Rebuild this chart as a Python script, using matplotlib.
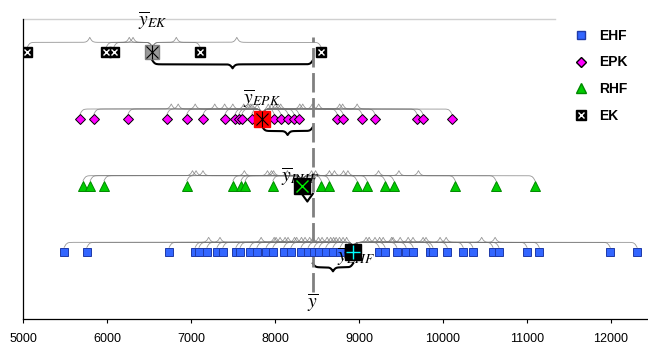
import numpy as np
import matplotlib
matplotlib.use("Agg")
import matplotlib.pyplot as plt
from matplotlib.lines import Line2D

plt.rcParams['font.family'] = ['Liberation Sans', 'DejaVu Sans']
plt.rcParams['mathtext.fontset'] = 'stix'

# values
ek = [5050, 5990, 6080, 7110, 8550]
epk = [5680, 5845, 6250, 6715, 6950, 7145, 7405, 7525, 7570, 7605, 7725,
       7990, 8070, 8155, 8225, 8285, 8740, 8810, 9035, 9190, 9690, 9760, 10105]
rhf = [5715, 5800, 5965, 6950, 7500, 7595, 7645, 7975, 8550, 8645, 8975,
       9095, 9310, 9415, 10145, 10630, 11095]
ehf = [5490, 5760, 6740, 7050, 7095, 7190, 7310, 7380, 7535, 7585, 7700,
       7785, 7895, 7975, 8105, 8190, 8310, 8395, 8465, 8525, 8605, 8690,
       8775, 9240, 9310, 9450, 9560, 9645, 9845, 9880, 10050, 10240, 10355,
       10595, 10665, 11000, 11145, 11990, 12310]
group_names = ['EK', 'EPK', 'RHF', 'EHF']
group_means = [6540, 7850, 8320, 8930]
grand_mean = 8450
xticks = [5000, 6000, 7000, 8000, 9000, 10000, 11000, 12000]

fig = plt.figure(figsize=(6.48, 3.45), dpi=100)
ax = fig.add_axes([23/648, 26/345, 625/648, 300/345])
xmin, xmax = 5000, 12440
ax.set_xlim(xmin, xmax)
ax.set_ylim(0, 4.5)
px_x = 625 / (xmax - xmin)
px_y = 300 / 4.5


def brace(x1, x2, y, h, up=True, **kw):
    a, b = sorted((x1, x2))
    w = (b - a) * px_x
    t = np.linspace(0, w / 2, 80)
    s = 1.3
    f = 1 / (1 + np.exp(-t / s)) + 1 / (1 + np.exp(-(t - w / 2) / s)) - 0.5
    f = np.concatenate([f, f[-2::-1]])
    xs = a + np.concatenate([t, w - t[-2::-1]]) / px_x
    sign = 1 if up else -1
    ax.plot(xs, y + sign * f * h / px_y, **kw)


rows = {'EK': (ek, 4), 'EPK': (epk, 3), 'RHF': (rhf, 2), 'EHF': (ehf, 1)}

# thin braces from each point to its group mean, thick one from group mean to grand mean
for name, m in zip(group_names, group_means):
    vals, yr = rows[name]
    for v in vals:
        brace(v, m, yr + 5 / px_y, 10, up=True, color='0.45', lw=0.6, alpha=0.75, zorder=1)
    off = 11 if name == 'EHF' else 8
    brace(m, grand_mean, yr - off / px_y, 8, up=False, color='black', lw=1.5, zorder=2)

ax.plot([grand_mean, grand_mean], [0.4, 4.23], color='#808080', lw=2,
        dashes=(7, 2), zorder=2)

# points
ax.plot(ehf, [1] * len(ehf), 's', ms=5.4, mfc='#3366ff', mec='#1f3aa8', mew=0.7, ls='none', zorder=3)
ax.plot(epk, [3] * len(epk), 'D', ms=4.6, mfc='#ff00ff', mec='black', mew=0.7, ls='none', zorder=3)
ax.plot(rhf, [2] * len(rhf), '^', ms=6.5, mfc='#00cc00', mec='#008800', mew=0.7, ls='none', zorder=3)
ax.plot(ek, [4] * len(ek), 's', ms=7, mfc='black', mec='black', ls='none', zorder=3)
ax.plot(ek, [4] * len(ek), 'x', ms=4.5, mew=1, color='white', ls='none', zorder=3.5)

# group means
ax.plot(group_means[0], 4, 's', ms=10.5, mfc='#999999', mec='#808080', zorder=5)
ax.plot(group_means[0], 4, 'x', ms=8, mew=0.8, color='black', zorder=6)
ax.plot(group_means[0], 4, '|', ms=10.5, mew=0.8, color='black', zorder=6)
ax.plot(group_means[1], 3, 's', ms=11, mfc='#ff0000', mec='#ff0000', zorder=5)
ax.plot(group_means[1], 3, 'x', ms=8, mew=0.8, color='black', zorder=6)
ax.plot(group_means[1], 3, '|', ms=11, mew=0.8, color='black', zorder=6)
ax.plot(group_means[2], 2, 's', ms=11, mfc='black', mec='black', zorder=5)
ax.plot(group_means[2], 2, 'x', ms=8, mew=1, color='#00ee00', zorder=6)
ax.plot(group_means[3], 1, 's', ms=11, mfc='black', mec='black', zorder=5)
ax.plot(group_means[3], 1, '+', ms=10, mew=1, color='#00ffff', zorder=6)

# labels
lab = dict(fontsize=14, ha='center', va='center', zorder=4, clip_on=False)
ax.text(group_means[0], 4.47, r'$\overline{y}_{EK}$', **lab)
ax.text(group_means[1], 3.31, r'$\overline{y}_{EPK}$', **lab)
ax.text(group_means[2] - 20, 2.14, r'$\overline{y}_{RHF}$', **lab)
ax.text(group_means[3] + 40, 0.93, r'$\overline{y}_{EHF}$', **lab)
ax.text(grand_mean, 0.25, r'$\overline{y}$', **lab)

# axes styling
for sp in ['right', 'top']:
    ax.spines[sp].set_visible(False)
ax.spines['left'].set_linewidth(0.9)
ax.spines['bottom'].set_linewidth(0.9)
ax.plot([xmin, xmin + 532 / px_x], [4.5, 4.5], color='#d0d0d0', lw=1, clip_on=False, zorder=0)
ax.set_yticks([])
ax.set_xticks(xticks)
ax.set_xticklabels([str(t) for t in xticks])
ax.tick_params(axis='x', direction='out', length=3, width=0.8, pad=7, labelsize=9)

handles = [
    Line2D([], [], marker='s', ms=5.4, mfc='#3366ff', mec='#1f3aa8', ls='none'),
    Line2D([], [], marker='D', ms=4.6, mfc='#ff00ff', mec='black', ls='none'),
    Line2D([], [], marker='^', ms=6.5, mfc='#00cc00', mec='#008800', ls='none'),
    (Line2D([], [], marker='s', ms=7, mfc='black', mec='black', ls='none'),
     Line2D([], [], marker='x', ms=4.5, mew=1, color='white', ls='none')),
]
fig.legend(handles, ['EHF', 'EPK', 'RHF', 'EK'], loc='upper left',
           bbox_to_anchor=(562/648, 1 - 19/345), borderaxespad=0, borderpad=0.7,
           frameon=False, handlelength=1.4, handletextpad=0.6, labelspacing=0.92,
           prop={'weight': 'bold', 'size': 10})

fig.savefig('out.png', dpi=100)
